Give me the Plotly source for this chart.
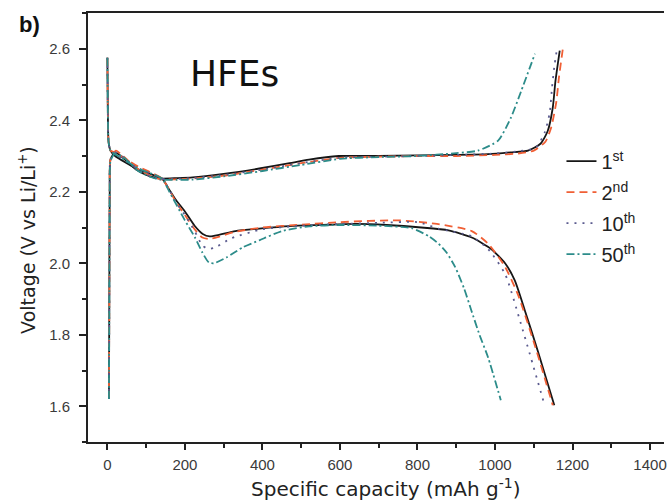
import plotly.graph_objects as go

# ---------------- data (capacity in mAh/g, voltage in V) ----------------
cycle_names = ["1<sup>st</sup>", "2<sup>nd</sup>", "10<sup>th</sup>", "50<sup>th</sup>"]

dis1_cap = [0, 1, 3, 8, 20, 50, 80, 110, 141, 160, 175, 200, 225, 246, 264, 290, 330, 392, 470, 550, 641, 720, 810, 880, 940, 990, 1026, 1051, 1077, 1110, 1153]
dis1_v = [2.575, 2.45, 2.34, 2.315, 2.30, 2.28, 2.262, 2.25, 2.237, 2.205, 2.18, 2.145, 2.105, 2.082, 2.075, 2.08, 2.09, 2.097, 2.104, 2.107, 2.11, 2.107, 2.10, 2.092, 2.072, 2.04, 2.0, 1.952, 1.868, 1.756, 1.603]
chg1_cap = [4, 5, 6, 8, 20, 40, 77, 110, 136, 180, 220, 300, 392, 470, 520, 597, 700, 800, 900, 982, 1040, 1085, 1118, 1136, 1149, 1156, 1167]
chg1_v = [1.62, 1.9, 2.2, 2.29, 2.31, 2.295, 2.26, 2.243, 2.237, 2.238, 2.24, 2.25, 2.265, 2.28, 2.29, 2.30, 2.30, 2.302, 2.303, 2.305, 2.31, 2.315, 2.335, 2.37, 2.435, 2.51, 2.595]

dis2_cap = [0, 1, 3, 8, 20, 50, 80, 110, 141, 160, 175, 200, 225, 245, 262, 290, 330, 400, 500, 600, 750, 850, 940, 982, 1026, 1060, 1100, 1149]
dis2_v = [2.575, 2.45, 2.34, 2.315, 2.31, 2.29, 2.27, 2.255, 2.237, 2.205, 2.175, 2.135, 2.095, 2.072, 2.068, 2.075, 2.088, 2.10, 2.108, 2.115, 2.12, 2.11, 2.09, 2.055, 1.99, 1.91, 1.78, 1.603]
chg2_cap = [4, 5, 6, 8, 22, 40, 77, 110, 136, 180, 220, 300, 400, 500, 600, 700, 800, 900, 1000, 1060, 1100, 1130, 1145, 1158, 1165, 1175]
chg2_v = [1.62, 1.9, 2.2, 2.29, 2.315, 2.30, 2.265, 2.245, 2.235, 2.235, 2.237, 2.245, 2.262, 2.28, 2.295, 2.298, 2.30, 2.30, 2.303, 2.307, 2.315, 2.34, 2.38, 2.45, 2.52, 2.6]

dis10_cap = [0, 1, 3, 8, 20, 50, 80, 110, 141, 160, 175, 200, 225, 245, 260, 280, 320, 400, 500, 600, 700, 800, 854, 940, 982, 1026, 1067, 1128]
dis10_v = [2.575, 2.45, 2.34, 2.315, 2.305, 2.285, 2.265, 2.252, 2.237, 2.205, 2.175, 2.135, 2.09, 2.05, 2.04, 2.045, 2.07, 2.095, 2.105, 2.11, 2.113, 2.115, 2.097, 2.075, 2.04, 1.97, 1.83, 1.603]
chg10_cap = [4, 5, 6, 8, 20, 40, 77, 110, 136, 180, 220, 300, 400, 500, 600, 700, 800, 900, 1000, 1060, 1105, 1128, 1141, 1147, 1153, 1160]
chg10_v = [1.62, 1.9, 2.2, 2.29, 2.31, 2.298, 2.262, 2.244, 2.236, 2.236, 2.238, 2.247, 2.262, 2.28, 2.295, 2.298, 2.30, 2.303, 2.307, 2.313, 2.323, 2.365, 2.42, 2.49, 2.55, 2.6]

dis50_cap = [0, 1, 3, 8, 20, 50, 80, 110, 141, 160, 200, 226, 245, 262, 275, 307, 350, 392, 450, 520, 600, 700, 785, 830, 854, 875, 897, 920, 939, 960, 982, 1015]
dis50_v = [2.575, 2.45, 2.34, 2.315, 2.305, 2.285, 2.265, 2.252, 2.237, 2.2, 2.12, 2.072, 2.03, 2.002, 2.0, 2.016, 2.045, 2.064, 2.09, 2.103, 2.107, 2.105, 2.098, 2.075, 2.055, 2.03, 1.99, 1.93, 1.868, 1.80, 1.737, 1.617]
chg50_cap = [4, 5, 6, 8, 18, 40, 77, 110, 136, 180, 220, 300, 400, 500, 600, 700, 800, 900, 956, 1008, 1041, 1067, 1103]
chg50_v = [1.62, 1.9, 2.2, 2.285, 2.305, 2.298, 2.26, 2.242, 2.234, 2.233, 2.234, 2.243, 2.258, 2.275, 2.292, 2.297, 2.30, 2.308, 2.315, 2.343, 2.407, 2.48, 2.586]

x_ticks = [0, 200, 400, 600, 800, 1000, 1200, 1400]
y_ticks = [1.6, 1.8, 2.0, 2.2, 2.4, 2.6]

# ---------------- styles ----------------
colors = ["#161616", "#f05f35", "#5b5b8f", "#2c8c8a"]
dashes = ["solid", "8px,5px", "2px,6px", "8px,3px,2px,3px"]

cycles = [
    (dis1_cap, dis1_v, chg1_cap, chg1_v),
    (dis2_cap, dis2_v, chg2_cap, chg2_v),
    (dis10_cap, dis10_v, chg10_cap, chg10_v),
    (dis50_cap, dis50_v, chg50_cap, chg50_v),
]

fig = go.Figure()
for i, (dc, dv, cc, cv) in enumerate(cycles):
    xs = list(dc) + [None] + list(cc)
    ys = list(dv) + [None] + list(cv)
    fig.add_trace(go.Scatter(
        x=xs, y=ys, mode="lines", name=cycle_names[i],
        legendgroup=f"g{i}",
        line=dict(color=colors[i], width=1.8, dash=dashes[i], shape="spline", smoothing=0.6),
        connectgaps=False,
    ))

tick_font = dict(family="Liberation Sans, Arial, sans-serif", size=15, color="#3a3a3a")
title_font = dict(family="DejaVu Sans, sans-serif", size=20, color="#222")

fig.update_layout(
    width=667, height=502,
    margin=dict(l=88, r=0, t=13, b=60),
    paper_bgcolor="white", plot_bgcolor="white",
    showlegend=True,
    legend=dict(
        x=0.822, y=0.70, xanchor="left", yanchor="top",
        bgcolor="rgba(0,0,0,0)",
        font=dict(family="Liberation Sans, Arial, sans-serif", size=20, color="#222"),
        tracegroupgap=2,
    ),
    xaxis=dict(
        range=[-50, 1436], tickvals=x_ticks, ticktext=[str(v) for v in x_ticks],
        showgrid=False, zeroline=False,
        showline=True, linecolor="#222", linewidth=2, mirror=True,
        ticks="outside", ticklen=6, tickwidth=1.5, tickcolor="#222",
        minor=dict(dtick=100, tick0=0, ticks="outside", ticklen=4, tickwidth=1.5, tickcolor="#222", showgrid=False),
        tickfont=tick_font, ticklabeloverflow="allow", ticklabelstandoff=2,
    ),
    yaxis=dict(
        range=[1.5, 2.7], tickvals=y_ticks, ticktext=[f"{v:.1f}" for v in y_ticks],
        showgrid=False, zeroline=False,
        showline=True, linecolor="#222", linewidth=2, mirror=False,
        ticks="outside", ticklen=7, tickwidth=1.5, tickcolor="#222",
        minor=dict(dtick=0.1, tick0=1.5, ticks="outside", ticklen=4, tickwidth=1.5, tickcolor="#222", showgrid=False),
        tickfont=tick_font, ticklabelstandoff=6,
    ),
    annotations=[
        dict(text="Specific capacity (mAh g<sup>-1</sup>)", xref="paper", yref="paper",
             x=0.516, y=-0.107, xanchor="center", yanchor="middle", showarrow=False, font=title_font),
        dict(text="Voltage (V vs Li/Li<sup>+</sup>)", xref="paper", yref="paper",
             x=-0.105, y=0.47, xanchor="center", yanchor="middle", textangle=-90, showarrow=False,
             font=dict(family="DejaVu Sans, sans-serif", size=19, color="#222")),
        dict(text="<b>b)</b>", xref="paper", yref="paper", x=-0.102, y=1.0, xanchor="center", yanchor="middle",
             showarrow=False, font=dict(family="Liberation Sans, Arial, sans-serif", size=22, color="#111"),
             yshift=-11),
        dict(text="HFEs", xref="paper", yref="paper", x=0.255, y=0.86, xanchor="center", yanchor="middle",
             showarrow=False, bgcolor="white",
             font=dict(family="DejaVu Sans, sans-serif", size=36, color="#111")),
    ],
)

fig.write_html("out.html")
